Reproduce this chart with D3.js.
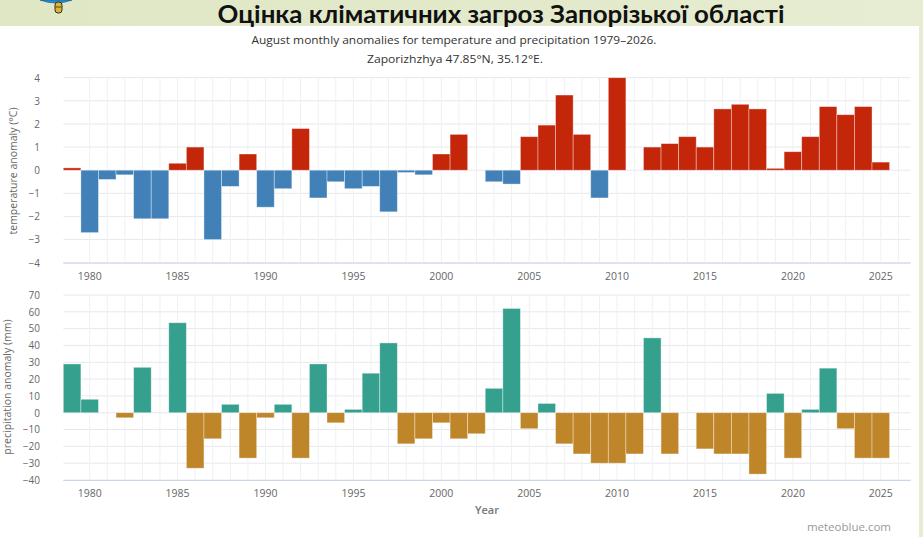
<!DOCTYPE html>
<html>
<head>
<meta charset="utf-8">
<script src="https://cdn.jsdelivr.net/npm/d3@7/dist/d3.min.js"></script>
<style>
html,body{margin:0;padding:0;background:#fff;}
svg{display:block;}
</style>
</head>
<body>
<svg id="chart" width="923" height="537"></svg>
<script>
// ---- data ----
const years = d3.range(1979, 2026);
const tempAnomaly = [
  0.1, -2.7, -0.4, -0.2, -2.1, -2.1, 0.3, 1.0, -3.0, -0.7,
  0.7, -1.6, -0.8, 1.8, -1.2, -0.5, -0.8, -0.7, -1.8, -0.1,
  -0.2, 0.7, 1.55, 0, -0.5, -0.6, 1.45, 1.95, 3.25, 1.55,
  -1.2, 4.0, 0, 1.0, 1.15, 1.45, 1.0, 2.65, 2.85, 2.65,
  0.08, 0.8, 1.45, 2.75, 2.4, 2.75, 0.35
];
const precipAnomaly = [
  29, 8, 0, -3, 27, 0, 53.5, -33, -15.5, 5,
  -27, -3, 5, -27, 29, -6, 2, 23.5, 41.5, -18.5,
  -15.5, -6, -15.5, -12.5, 14.5, 62, -9.5, 5.5, -18.5, -24.5,
  -30, -30, -24.5, 44.5, -24.5, 0, -21.5, -24.5, -24.5, -36.5,
  11.5, -27, 2, 26.5, -9.5, -27, -27
];
const tempTicks = [-4, -3, -2, -1, 0, 1, 2, 3, 4];
const precipTicks = [-40, -30, -20, -10, 0, 10, 20, 30, 40, 50, 60, 70];
const yearTicks = [1980, 1985, 1990, 1995, 2000, 2005, 2010, 2015, 2020, 2025];
const title = "Оцінка кліматичних загроз Запорізької області";
const subtitle1 = "August monthly anomalies for temperature and precipitation 1979–2026.";
const subtitle2 = "Zaporizhzhya 47.85°N, 35.12°E.";

// ---- layout ----
const svg = d3.select("#chart");
const W = 923, H = 537;
const font = "'Open Sans', 'DejaVu Sans', sans-serif";

// slide background
const defs = svg.append("defs");
const grad = defs.append("linearGradient").attr("id", "band").attr("x1", 0).attr("x2", 1).attr("y1", 0).attr("y2", 0);
grad.append("stop").attr("offset", "0%").attr("stop-color", "#dfe7c5");
grad.append("stop").attr("offset", "60%").attr("stop-color", "#e3eacb");
grad.append("stop").attr("offset", "100%").attr("stop-color", "#e6edd3");
svg.append("rect").attr("x", 0).attr("y", 0).attr("width", W).attr("height", H).attr("fill", "url(#band)");
svg.append("rect").attr("x", 0).attr("y", 26).attr("width", 919).attr("height", H - 26).attr("fill", "#ffffff");

// small logo fragment
svg.append("path").attr("d", "M40,0 Q56,6 72,0 Z").attr("fill", "#2a8fd6").attr("stroke", "#1a5f96").attr("stroke-width", 0.8);
svg.append("rect").attr("x", 55).attr("y", 2).attr("width", 7).attr("height", 11).attr("rx", 3)
  .attr("fill", "#d9b53a").attr("stroke", "#3a3010").attr("stroke-width", 1);
svg.append("line").attr("x1", 55.5).attr("x2", 61.5).attr("y1", 7).attr("y2", 7).attr("stroke", "#3a3010").attr("stroke-width", 0.8);

// titles
svg.append("text").attr("x", 501).attr("y", 23).attr("text-anchor", "middle")
  .attr("font-family", "'Lato', 'Noto Sans', sans-serif").attr("font-weight", 700).attr("font-size", 24)
  .attr("fill", "#111").attr("textLength", 567).attr("lengthAdjust", "spacingAndGlyphs").text(title);
svg.append("text").attr("x", 454).attr("y", 43.5).attr("text-anchor", "middle")
  .attr("font-family", font).attr("font-size", 11).attr("fill", "#333")
  .attr("textLength", 405).attr("lengthAdjust", "spacingAndGlyphs").text(subtitle1);
svg.append("text").attr("x", 455).attr("y", 63).attr("text-anchor", "middle")
  .attr("font-family", font).attr("font-size", 11).attr("fill", "#333")
  .attr("textLength", 176).attr("lengthAdjust", "spacingAndGlyphs").text(subtitle2);

const x = d3.scaleLinear().domain([1978.5, 2026.7]).range([63.3, 910.7]);

function panel(opts) {
  const { values, ticks, y, pos, neg, label, labelX, labelY, xLabelY } = opts;
  const g = svg.append("g");
  const [y0, y1] = y.range();
  // horizontal grid
  g.selectAll(".hg").data(ticks).join("line")
    .attr("x1", x.range()[0]).attr("x2", x.range()[1])
    .attr("y1", d => y(d)).attr("y2", d => y(d))
    .attr("stroke", "#e8e8ec").attr("stroke-width", 1);
  // vertical grid every year
  g.selectAll(".vg").data(d3.range(1980, 2027)).join("line")
    .attr("x1", d => x(d)).attr("x2", d => x(d))
    .attr("y1", y1).attr("y2", y0)
    .attr("stroke", "#eef0f4").attr("stroke-width", 1);
  // bars
  g.selectAll(".bar").data(years.map((yr, i) => ({ yr, v: values[i] })).filter(d => d.v !== 0)).join("rect")
    .attr("x", d => x(d.yr - 0.5))
    .attr("width", d => x(d.yr + 0.5) - x(d.yr - 0.5))
    .attr("y", d => y(Math.max(0, d.v)))
    .attr("height", d => Math.abs(y(d.v) - y(0)))
    .attr("fill", d => d.v > 0 ? pos : neg)
    .attr("stroke", "#ffffff").attr("stroke-opacity", 0.45).attr("stroke-width", 0.8);
  // x axis line
  g.append("line").attr("x1", x.range()[0]).attr("x2", x.range()[1])
    .attr("y1", y0 + 0.5).attr("y2", y0 + 0.5).attr("stroke", "#ccd6eb").attr("stroke-width", 1);
  // y tick labels
  g.selectAll(".yl").data(ticks).join("text")
    .attr("x", 40).attr("y", d => y(d) + 3.8).attr("text-anchor", "end")
    .attr("font-family", font).attr("font-size", 10).attr("fill", "#666")
    .text(d => d < 0 ? "−" + Math.abs(d) : d);
  // x tick labels
  g.selectAll(".xl").data(yearTicks).join("text")
    .attr("x", d => x(d)).attr("y", xLabelY).attr("text-anchor", "middle")
    .attr("font-family", font).attr("font-size", 10.5).attr("fill", "#666")
    .text(d => d);
  // axis title
  g.append("text").attr("transform", `translate(${labelX},${labelY}) rotate(-90)`)
    .attr("text-anchor", "middle").attr("font-family", font).attr("font-size", 10.5).attr("fill", "#666")
    .text(label);
}

const yT = d3.scaleLinear().domain([-4, 4]).range([262.7, 77.7]);
panel({ values: tempAnomaly, ticks: tempTicks, y: yT, pos: "#c4260a", neg: "#4281b7",
  label: "temperature anomaly (°C)", labelX: 16.5, labelY: 171, xLabelY: 280 });

const yP = d3.scaleLinear().domain([-40, 70]).range([480, 295]);
panel({ values: precipAnomaly, ticks: precipTicks, y: yP, pos: "#36a08e", neg: "#be8529",
  label: "precipitation anomaly (mm)", labelX: 11, labelY: 387, xLabelY: 497 });

svg.append("text").attr("x", 487).attr("y", 514).attr("text-anchor", "middle")
  .attr("font-family", font).attr("font-size", 11).attr("font-weight", 600).attr("fill", "#777").text("Year");
svg.append("text").attr("x", 891).attr("y", 531).attr("text-anchor", "end")
  .attr("font-family", font).attr("font-size", 11.5).attr("fill", "#999").text("meteoblue.com");
</script>
</body>
</html>
